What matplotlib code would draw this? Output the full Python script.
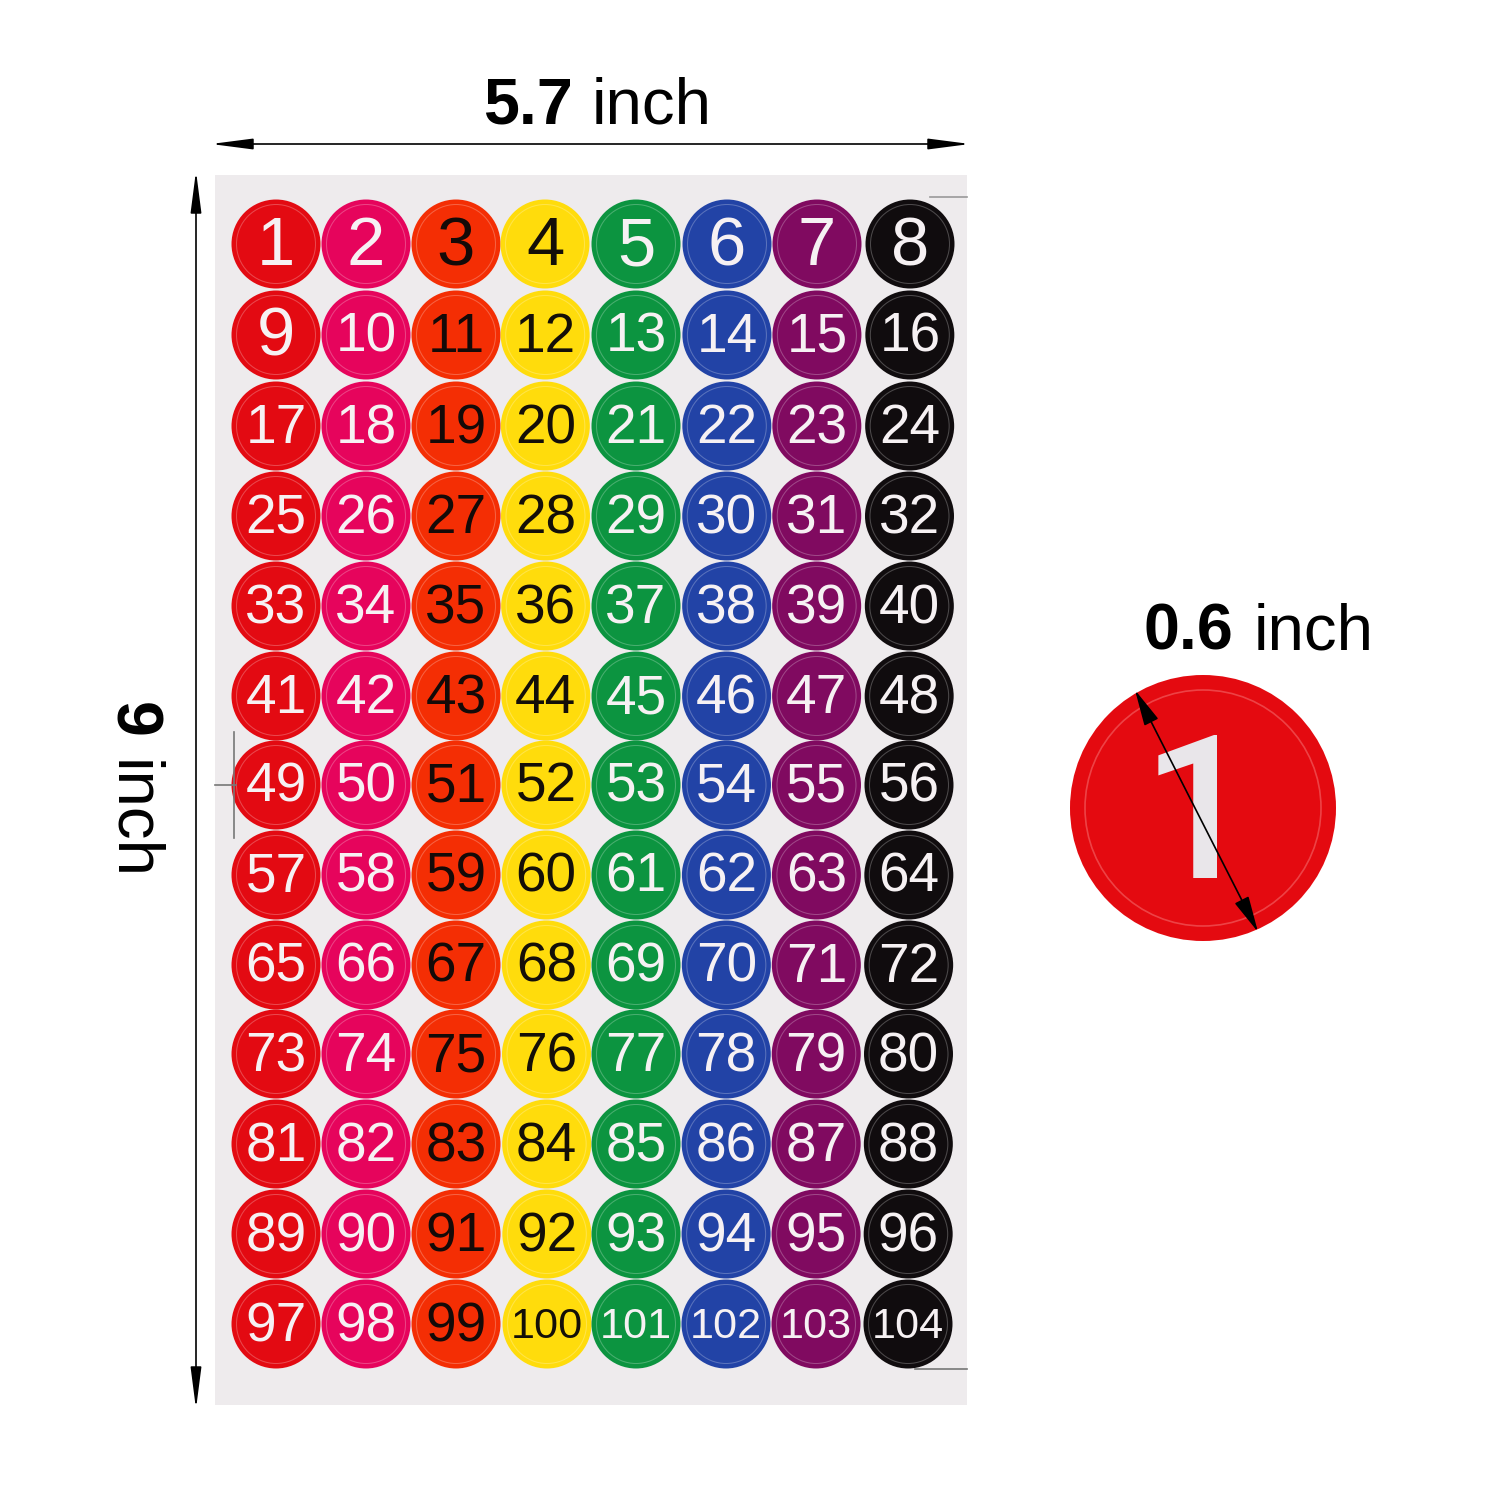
import matplotlib.pyplot as plt
from matplotlib.patches import Circle, Rectangle

plt.rcParams['font.family'] = ['Liberation Sans', 'DejaVu Sans']

col_colors = ['#e30a12', '#e6045c', '#f42e04', '#ffdc0c', '#0c9440', '#2243a6', '#800a60', '#100c0e']
text_colors = ['#f6f1f3', '#f6f1f3', '#140a08', '#140f08', '#f6f1f3', '#f6f1f3', '#f6f1f3', '#f6f1f3']
# sticker centres, top left to bottom right
col_x_top = [276, 366, 456, 545, 636, 727, 817, 910]
col_x_bottom = [276, 366, 456, 547, 636, 726, 816, 908]
row_y = [244, 335, 426, 516, 606, 696, 785, 875, 965, 1054, 1144, 1234, 1324]
radius = 44.5

fig = plt.figure(figsize=(5, 5), dpi=300)
ax = fig.add_axes([0, 0, 1, 1])
ax.set_xlim(0, 1500)
ax.set_ylim(1500, 0)
ax.axis('off')

# sheet
ax.add_patch(Rectangle((215, 175), 752, 1230, fc='#eeebed', ec='none'))
ax.plot([930, 967], [197, 197], color='#999999', lw=0.4)
ax.plot([915, 967], [1369, 1369], color='#777777', lw=0.4)
ax.plot([215, 236], [785, 785], color='#777777', lw=0.4)
ax.plot([234, 234], [732, 838], color='#777777', lw=0.4)

n = 1
for r, y in enumerate(row_y):
    for c in range(8):
        x = col_x_top[c] + (col_x_bottom[c] - col_x_top[c]) * r / 12
        ax.add_patch(Circle((x, y), radius, fc=col_colors[c], ec='none'))
        ax.add_patch(Circle((x, y), radius - 5, fc='none', ec='white', lw=0.25, alpha=0.25))
        size = 16.5 if n < 10 else (13.2 if n < 100 else 10.4)
        ax.text(x, y + 3, str(n), color=text_colors[c], fontsize=size, ha='center', va='center')
        n += 1

# dimension arrows
arrow = dict(arrowstyle='<|-|>,head_length=0.85,head_width=0.11', color='black', lw=0.4, shrinkA=0, shrinkB=0)
ax.annotate('', xy=(211, 144), xytext=(970, 144), arrowprops=arrow)
ax.annotate('', xy=(196, 171), xytext=(196, 1409), arrowprops=arrow)

ax.text(483, 124, '5.7', fontsize=15.5, fontweight='bold', ha='left', va='baseline')
ax.text(592, 124, 'inch', fontsize=15.7, ha='left', va='baseline')
ax.text(1144, 649, '0.6', fontsize=15.5, fontweight='bold', ha='left', va='baseline')
ax.text(1254, 649, 'inch', fontsize=15.7, ha='left', va='baseline')
ax.text(131, 702, '9', fontsize=15.5, fontweight='bold', rotation=270, ha='center', va='top')
ax.text(131, 760, 'inch', fontsize=15.7, rotation=270, ha='center', va='top')

# big sticker
ax.add_patch(Circle((1203, 808), 133, fc='#e40a10', ec='none'))
ax.add_patch(Circle((1203, 808), 118, fc='none', ec='#f4686a', lw=0.4, alpha=0.6))
ax.text(1198, 823, '1', color='#e9e6ea', fontsize=48, family='Roboto', fontweight='medium', ha='center', va='center')
ax.annotate('', xy=(1135, 690), xytext=(1258, 932),
            arrowprops=dict(arrowstyle='<|-|>,head_length=0.75,head_width=0.16', color='black', lw=0.4, shrinkA=0, shrinkB=0))

fig.savefig('out.png', dpi=300)
